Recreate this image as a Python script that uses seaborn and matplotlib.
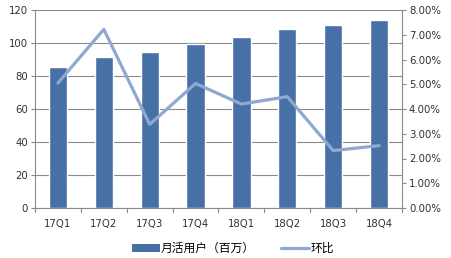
import matplotlib
matplotlib.use("Agg")
import matplotlib.pyplot as plt
import seaborn as sns
import pandas as pd
from matplotlib.ticker import FuncFormatter, MultipleLocator
from matplotlib.patches import Patch
from matplotlib.lines import Line2D

quarters = ["17Q1", "17Q2", "17Q3", "17Q4", "18Q1", "18Q2", "18Q3", "18Q4"]
mau = [85.3, 91.5, 94.5, 99.3, 103.5, 108.2, 111.0, 113.7]
qoq = [5.05, 7.22, 3.38, 5.03, 4.2, 4.5, 2.32, 2.52]

sns.set_theme(style="white")
plt.rcParams['font.family'] = ['DejaVu Sans', 'Noto Sans CJK SC']

bar_color = "#4771A6"
line_color = "#8FA7D1"
grid_color = "#8A8A8A"
text_color = "#303030"

df = pd.DataFrame({"q": quarters, "mau": mau, "qoq": qoq})

fig = plt.figure(figsize=(4.52, 2.58), dpi=100)
ax = fig.add_axes([35/452, 1 - 208/258, (402-35)/452, (208-10)/258])
sns.barplot(data=df, x="q", y="mau", color=bar_color, width=0.4, ax=ax, saturation=1)
ax.set_ylim(0, 120)
ax.yaxis.set_major_locator(MultipleLocator(20))
ax.set_xlim(-0.5, 7.5)
ax.grid(axis="y", color=grid_color, linewidth=0.8)
ax.set_axisbelow(True)
ax.set_xlabel("")
ax.set_ylabel("")

ax2 = ax.twinx()
sns.lineplot(x=list(range(len(quarters))), y=qoq, color=line_color, linewidth=2.3, ax=ax2)
ax2.set_ylim(0, 8)
ax2.yaxis.set_major_locator(MultipleLocator(1))
ax2.yaxis.set_major_formatter(FuncFormatter(lambda v, p: f"{v:.2f}%"))
ax2.set_xlim(-0.5, 7.5)

for a in (ax, ax2):
    a.spines["top"].set_visible(False)
    for s in ["left", "right", "bottom"]:
        a.spines[s].set_color(grid_color)
        a.spines[s].set_linewidth(0.8)
    a.tick_params(axis="both", labelsize=7.3, colors=text_color, length=3, width=0.8,
                  color=grid_color, direction="out", pad=2)

ax2.spines["left"].set_visible(False)
ax2.spines["bottom"].set_visible(False)
ax.spines["right"].set_visible(False)

# x ticks between categories
ax.set_xticks(range(8))
ax.set_xticklabels(quarters)
ax.tick_params(axis="x", length=0, pad=8)
for xb in [i + 0.5 for i in range(-1, 8)]:
    ax.plot([xb, xb], [0, -2.5], color=grid_color, linewidth=0.8, clip_on=False)

handles = [Patch(facecolor=bar_color, edgecolor="none"),
           Line2D([0], [0], color=line_color, linewidth=2.3)]
fig.legend(handles, ["月活用户（百万）", "环比"], loc="lower center",
           bbox_to_anchor=(0.515, -0.03), ncol=2, frameon=False,
           prop={"family": ["Noto Sans CJK SC", "DejaVu Sans"], "size": 8.5},
           handlelength=2.4, handleheight=0.7, columnspacing=2.2, handletextpad=0.1,
           labelcolor="#000000")

fig.savefig("out.png", dpi=100)
